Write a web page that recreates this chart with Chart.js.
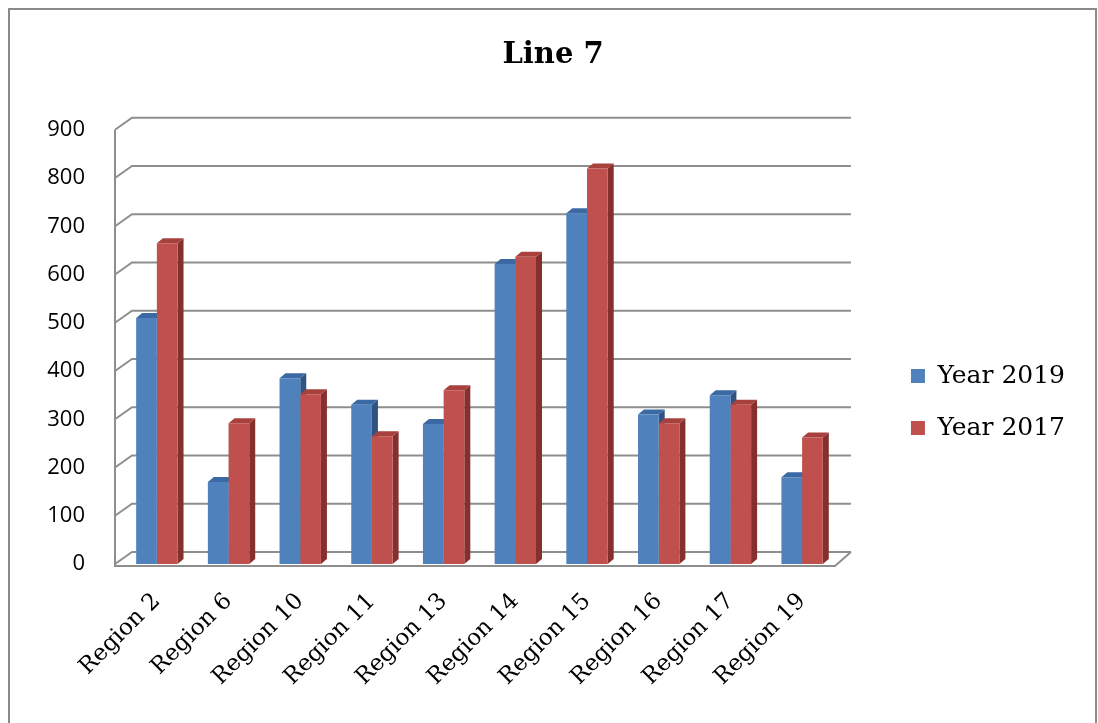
<!DOCTYPE html>
<html>
<head>
<meta charset="utf-8">
<script src="https://cdn.jsdelivr.net/npm/chart.js@4/dist/chart.umd.min.js"></script>
<style>
  html, body { margin: 0; padding: 0; background: #ffffff; }
  #wrap { width: 1098px; height: 723px; position: relative; }
</style>
</head>
<body>
<div id="wrap"><canvas id="chart" width="1098" height="723"></canvas></div>
<script>
// Categories and series values
const categories = ['Region 2', 'Region 6', 'Region 10', 'Region 11', 'Region 13',
                    'Region 14', 'Region 15', 'Region 16', 'Region 17', 'Region 19'];
const year2019 = [510, 170, 385, 330, 290, 622, 727, 310, 350, 180];
const year2017 = [665, 292, 352, 265, 360, 637, 820, 292, 330, 262];
const seriesNames = ['Year 2019', 'Year 2017'];
const yMin = 0, yMax = 900, yStep = 100;

// Face colours for the column extrusion (front, side, top)
const frontColors = ['#4f81bd', '#c0504d'];
const sideColors  = ['#2f5482', '#86302e'];
const topColors   = ['#3b69a3', '#a8403d'];
const gridColor = '#8e8e8e';

// Depth of the back wall and of each column
const wallDepth = { dx: 17, dy: 12 };
const colDepth  = { dx: 6, dy: 5 };

function poly(ctx, pts, fill) {
  ctx.beginPath();
  ctx.moveTo(pts[0][0], pts[0][1]);
  for (let i = 1; i < pts.length; i++) ctx.lineTo(pts[i][0], pts[i][1]);
  ctx.closePath();
  ctx.fillStyle = fill;
  ctx.fill();
}

const frame3d = {
  id: 'frame3d',
  afterLayout(chart) {
    // park the legend to the right of the plot, centred on its two entries
    const lg = chart.legend;
    const sx = chart.chartArea.right + 46 - lg.left;
    lg.left += sx; lg.right += sx;
    const sy = 402 - (lg.top + lg.bottom) / 2;
    lg.top += sy; lg.bottom += sy;
    // title centred across the whole frame
    const tb = chart.titleBlock;
    tb.left = 8; tb.right = chart.width;
  },
  beforeDraw(chart) {
    const ctx = chart.ctx;
    ctx.save();
    ctx.strokeStyle = '#8a8a8a';
    ctx.lineWidth = 2;
    ctx.strokeRect(9, 9, 1087, 760);
    ctx.restore();
  },
  beforeDatasetsDraw(chart) {
    const ctx = chart.ctx;
    const y = chart.scales.y;
    const { left, right } = chart.chartArea;
    const fx = left - 6;
    ctx.save();
    ctx.strokeStyle = gridColor;
    ctx.lineWidth = 2;
    ctx.lineJoin = 'miter';
    // back wall grid lines with their return along the side wall
    for (let v = yMin; v <= yMax; v += yStep) {
      const py = y.getPixelForValue(v);
      ctx.beginPath();
      ctx.moveTo(fx, py);
      ctx.lineTo(fx + wallDepth.dx, py - wallDepth.dy);
      ctx.lineTo(right + 13, py - wallDepth.dy);
      ctx.stroke();
    }
    // front edge of the side wall and of the floor
    const top = y.getPixelForValue(yMax), bot = y.getPixelForValue(yMin);
    ctx.beginPath();
    ctx.moveTo(fx, top);
    ctx.lineTo(fx, bot + 2);
    ctx.lineTo(right - 3, bot + 2);
    ctx.lineTo(right + 13, bot - wallDepth.dy);
    ctx.stroke();
    ctx.restore();

    // column sides and tops, drawn before the front faces
    ctx.save();
    chart.data.datasets.forEach((ds, di) => {
      const meta = chart.getDatasetMeta(di);
      meta.data.forEach(bar => {
        const p = bar.getProps(['x', 'y', 'base', 'width'], true);
        const l = p.x - p.width / 2, r = p.x + p.width / 2;
        poly(ctx, [[r, p.y], [r + colDepth.dx, p.y - colDepth.dy],
                   [r + colDepth.dx, p.base - colDepth.dy], [r, p.base]], sideColors[di]);
        poly(ctx, [[l, p.y], [l + colDepth.dx, p.y - colDepth.dy],
                   [r + colDepth.dx, p.y - colDepth.dy], [r, p.y]], topColors[di]);
      });
    });
    ctx.restore();
  }
};

new Chart(document.getElementById('chart'), {
  type: 'bar',
  data: {
    labels: categories,
    datasets: [
      { label: seriesNames[0], data: year2019, backgroundColor: frontColors[0], borderWidth: 0 },
      { label: seriesNames[1], data: year2017, backgroundColor: frontColors[1], borderWidth: 0 }
    ]
  },
  options: {
    responsive: false,
    animation: false,
    layout: { padding: { left: 0, top: 0, right: 69, bottom: 0 } },
    datasets: { bar: { categoryPercentage: 0.577, barPercentage: 1.0 } },
    plugins: {
      title: {
        display: true,
        text: 'Line 7',
        color: '#000000',
        font: { family: 'DejaVu Serif', size: 29, weight: 'bold', lineHeight: 1.2 },
        padding: { top: 38, bottom: 57 }
      },
      legend: {
        position: 'right',
        align: 'center',
        labels: {
          color: '#000000',
          font: { family: 'DejaVu Serif', size: 25 },
          boxWidth: 14,
          boxHeight: 14,
          padding: 27
        }
      },
      tooltip: { enabled: false }
    },
    scales: {
      x: {
        grid: { display: false },
        border: { display: false },
        ticks: {
          color: '#000000',
          font: { family: 'DejaVu Serif', size: 23 },
          maxRotation: 45,
          minRotation: 45,
          padding: 16,
          autoSkip: false
        },
        afterFit(scale) { scale.height = 159; }
      },
      y: {
        min: yMin,
        max: yMax,
        grid: { display: false, drawTicks: false },
        border: { display: false },
        ticks: {
          stepSize: yStep,
          color: '#000000',
          font: { family: 'Open Sans', size: 22 },
          padding: 36
        },
        afterFit(scale) { scale.width = 121; }
      }
    }
  },
  plugins: [frame3d]
});
</script>
</body>
</html>
